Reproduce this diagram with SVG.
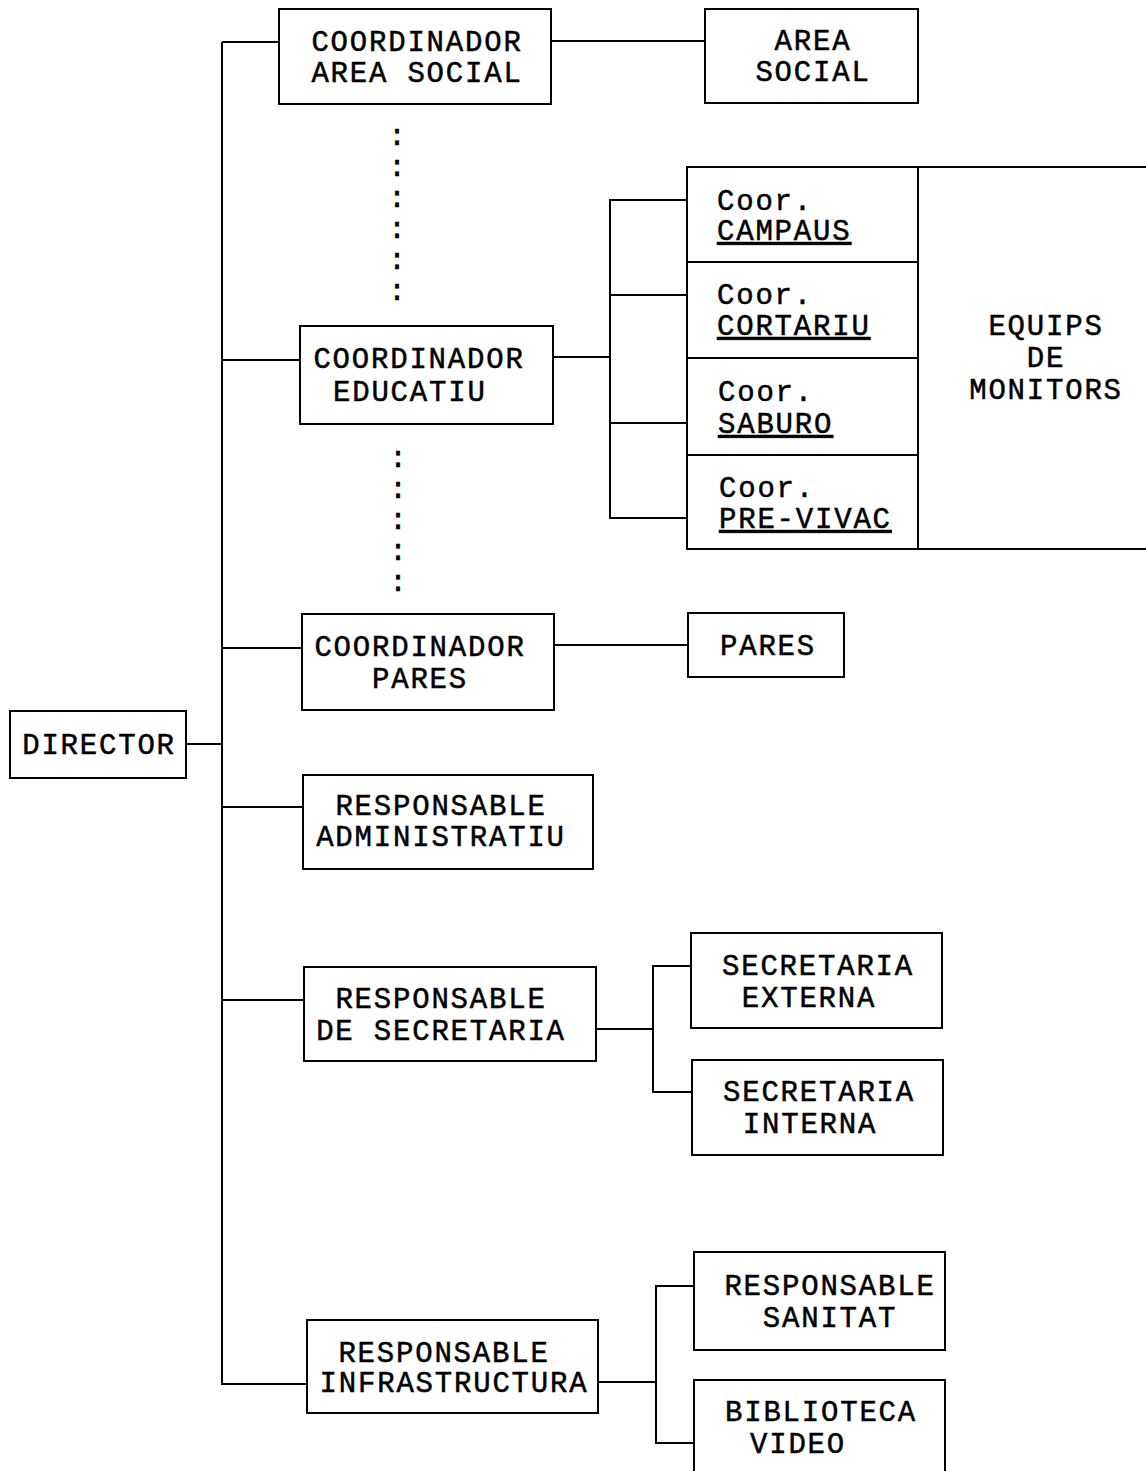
<svg xmlns="http://www.w3.org/2000/svg" width="1146" height="1471" viewBox="0 0 1146 1471">
<style>
rect{fill:#fff;stroke:#000;stroke-width:2}
line,path{stroke:#000;stroke-width:2;fill:none}
text{font-family:"Liberation Mono","Courier New",monospace;font-size:29px;letter-spacing:1.8px;fill:#000;stroke:#000;stroke-width:0.5;text-anchor:middle}
.l{text-anchor:start}
.u{text-decoration:underline}
.dots{font-size:30px;letter-spacing:0}
</style>
<rect x="0" y="0" width="1146" height="1471" style="stroke:none"/>
<g id="connectors">
<line x1="222" y1="42" x2="222" y2="1385"/>
<line x1="186" y1="744" x2="222" y2="744"/>
<line x1="222" y1="42" x2="279" y2="42"/>
<line x1="551" y1="41" x2="705" y2="41"/>
<line x1="222" y1="360" x2="300" y2="360"/>
<line x1="553" y1="357" x2="610" y2="357"/>
<path d="M687 200 H610 V518 H687"/>
<line x1="610" y1="295" x2="687" y2="295"/>
<line x1="610" y1="423" x2="687" y2="423"/>
<line x1="222" y1="648" x2="302" y2="648"/>
<line x1="554" y1="645" x2="688" y2="645"/>
<line x1="222" y1="807" x2="303" y2="807"/>
<line x1="222" y1="1000" x2="304" y2="1000"/>
<line x1="596" y1="1029" x2="653" y2="1029"/>
<path d="M691 966 H653 V1092 H692"/>
<line x1="222" y1="1384" x2="307" y2="1384"/>
<line x1="598" y1="1382" x2="656" y2="1382"/>
<path d="M694 1286 H656 V1443 H694"/>
</g>
<g id="dots1"><text class="dots" x="397" y="145">:</text><text class="dots" x="397" y="176">:</text><text class="dots" x="397" y="207">:</text><text class="dots" x="397" y="238">:</text><text class="dots" x="397" y="269">:</text><text class="dots" x="397" y="300">:</text></g>
<g id="dots2"><text class="dots" x="398" y="467">:</text><text class="dots" x="398" y="498">:</text><text class="dots" x="398" y="529">:</text><text class="dots" x="398" y="560">:</text><text class="dots" x="398" y="591">:</text></g>
<g id="director"><rect x="10" y="711" width="176" height="67"/><text x="99" y="754">DIRECTOR</text></g>
<g id="coord-area-social"><rect x="279" y="9" width="272" height="95"/><text x="417" y="51">COORDINADOR</text><text x="417" y="82">AREA SOCIAL</text></g>
<g id="area-social"><rect x="705" y="9" width="213" height="94"/><text x="813" y="50">AREA</text><text x="813" y="81">SOCIAL</text></g>
<g id="coord-educatiu"><rect x="300" y="326" width="253" height="98"/><text x="419" y="368">COORDINADOR</text><text class="l" x="333" y="401">EDUCATIU</text></g>
<g id="equips"><path d="M1146 167 H918 V549 H1146" style="fill:#fff"/><text x="1046" y="335">EQUIPS</text><text x="1046" y="367">DE</text><text x="1046" y="399">MONITORS</text></g>
<g id="coor-campaus"><rect x="687" y="167" width="231" height="95"/><text class="l" x="717" y="210">Coor.</text><text class="l u" x="717" y="240">CAMPAUS</text></g>
<g id="coor-cortariu"><rect x="687" y="262" width="231" height="96"/><text class="l" x="717" y="304">Coor.</text><text class="l u" x="717" y="335">CORTARIU</text></g>
<g id="coor-saburo"><rect x="687" y="358" width="231" height="97"/><text class="l" x="718" y="401">Coor.</text><text class="l u" x="718" y="433">SABURO</text></g>
<g id="coor-previvac"><rect x="687" y="455" width="231" height="94"/><text class="l" x="719" y="497">Coor.</text><text class="l u" x="719" y="528">PRE-VIVAC</text></g>
<g id="coord-pares"><rect x="302" y="614" width="252" height="96"/><text x="420" y="656">COORDINADOR</text><text x="420" y="688">PARES</text></g>
<g id="pares"><rect x="688" y="613" width="156" height="64"/><text x="768" y="655">PARES</text></g>
<g id="resp-admin"><rect x="303" y="775" width="290" height="94"/><text x="441" y="815">RESPONSABLE</text><text x="441" y="846">ADMINISTRATIU</text></g>
<g id="resp-secretaria"><rect x="304" y="967" width="292" height="94"/><text x="441" y="1008">RESPONSABLE</text><text x="441" y="1040">DE SECRETARIA</text></g>
<g id="secretaria-externa"><rect x="691" y="933" width="251" height="95"/><text x="818" y="975">SECRETARIA</text><text x="809" y="1007">EXTERNA</text></g>
<g id="secretaria-interna"><rect x="692" y="1060" width="251" height="95"/><text x="819" y="1101">SECRETARIA</text><text x="810" y="1133">INTERNA</text></g>
<g id="resp-infra"><rect x="307" y="1320" width="291" height="93"/><text x="444" y="1362">RESPONSABLE</text><text x="454" y="1392">INFRASTRUCTURA</text></g>
<g id="resp-sanitat"><rect x="694" y="1252" width="251" height="98"/><text x="830" y="1295">RESPONSABLE</text><text x="830" y="1327">SANITAT</text></g>
<g id="biblioteca-video"><path d="M694 1480 V1380 H945 V1480" style="fill:#fff"/><text x="821" y="1421">BIBLIOTECA</text><text x="798" y="1453">VIDEO</text></g>
</svg>
